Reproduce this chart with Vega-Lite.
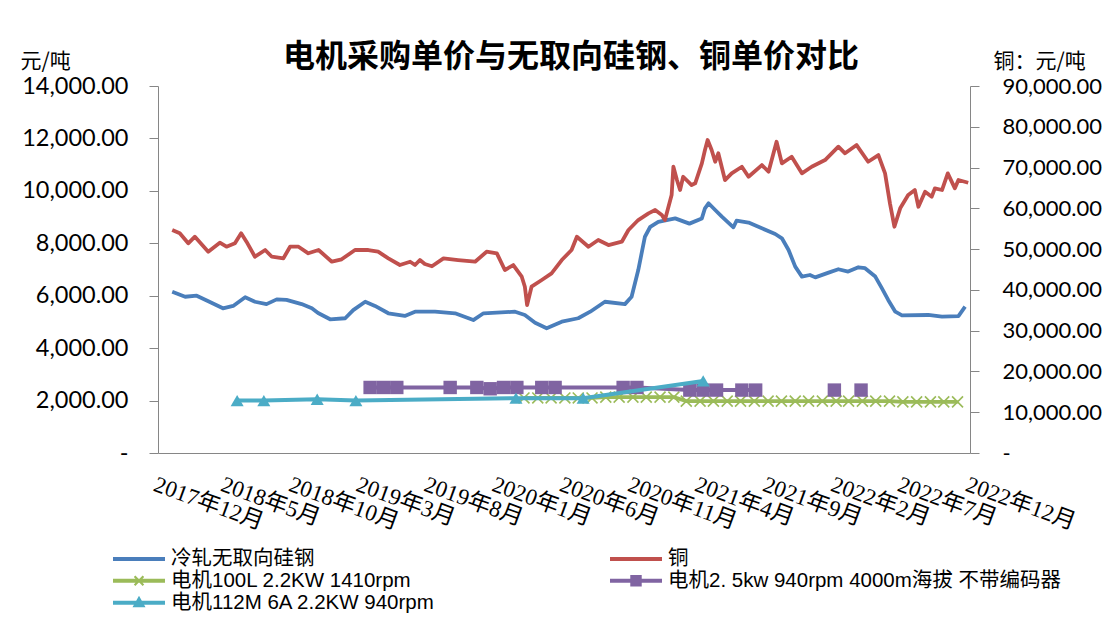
{
  "$schema": "https://vega.github.io/schema/vega-lite/v6.json",
  "width": 812,
  "height": 367,
  "autosize": {"type": "none"},
  "padding": {"left": 158, "top": 86, "right": 136, "bottom": 175},
  "background": "white",
  "config": {
    "view": {"stroke": null},
    "axis": {"labelColor": "#000000", "domainColor": "#868686", "tickColor": "#868686", "grid": false}
  },
  "title": {
    "text": "电机采购单价与无取向硅钢、铜单价对比",
    "font": "Noto Sans CJK SC",
    "fontSize": 32,
    "fontWeight": "bold",
    "color": "#000000",
    "anchor": "middle",
    "baseline": "alphabetic",
    "offset": 0,
    "dx": 7,
    "dy": 49
  },
  "datasets": {
    "steel": [
      {"date": "2018-01-02", "v": 6150}, {"date": "2018-01-31", "v": 5960}, {"date": "2018-02-26", "v": 6000},
      {"date": "2018-03-23", "v": 5800}, {"date": "2018-04-26", "v": 5520}, {"date": "2018-05-19", "v": 5610},
      {"date": "2018-06-15", "v": 5940}, {"date": "2018-07-07", "v": 5770}, {"date": "2018-08-02", "v": 5680},
      {"date": "2018-08-25", "v": 5860}, {"date": "2018-09-16", "v": 5840}, {"date": "2018-10-20", "v": 5680},
      {"date": "2018-11-12", "v": 5520}, {"date": "2018-11-26", "v": 5340}, {"date": "2018-12-23", "v": 5100},
      {"date": "2019-01-26", "v": 5140}, {"date": "2019-02-13", "v": 5450}, {"date": "2019-03-12", "v": 5770},
      {"date": "2019-04-03", "v": 5610}, {"date": "2019-05-03", "v": 5330}, {"date": "2019-06-09", "v": 5230},
      {"date": "2019-07-02", "v": 5390}, {"date": "2019-08-16", "v": 5390}, {"date": "2019-09-30", "v": 5330},
      {"date": "2019-11-10", "v": 5070}, {"date": "2019-12-03", "v": 5330}, {"date": "2020-02-12", "v": 5390},
      {"date": "2020-03-05", "v": 5265}, {"date": "2020-03-28", "v": 4970}, {"date": "2020-04-23", "v": 4760},
      {"date": "2020-05-27", "v": 5010}, {"date": "2020-07-03", "v": 5140}, {"date": "2020-07-30", "v": 5390},
      {"date": "2020-09-01", "v": 5770}, {"date": "2020-10-16", "v": 5680}, {"date": "2020-10-31", "v": 5960},
      {"date": "2020-11-15", "v": 6980}, {"date": "2020-11-30", "v": 8250}, {"date": "2020-12-12", "v": 8630},
      {"date": "2020-12-30", "v": 8820}, {"date": "2021-02-06", "v": 8950}, {"date": "2021-03-10", "v": 8750},
      {"date": "2021-04-07", "v": 8950}, {"date": "2021-04-14", "v": 9335}, {"date": "2021-04-22", "v": 9526},
      {"date": "2021-05-07", "v": 9270}, {"date": "2021-05-22", "v": 9015}, {"date": "2021-06-17", "v": 8610},
      {"date": "2021-06-24", "v": 8860}, {"date": "2021-07-21", "v": 8790}, {"date": "2021-08-20", "v": 8570},
      {"date": "2021-09-19", "v": 8355}, {"date": "2021-10-04", "v": 8190}, {"date": "2021-10-19", "v": 7745},
      {"date": "2021-11-03", "v": 7110}, {"date": "2021-11-18", "v": 6730}, {"date": "2021-12-06", "v": 6790},
      {"date": "2021-12-18", "v": 6700}, {"date": "2022-01-17", "v": 6880}, {"date": "2022-02-08", "v": 7010},
      {"date": "2022-03-02", "v": 6920}, {"date": "2022-03-25", "v": 7085}, {"date": "2022-04-09", "v": 7050},
      {"date": "2022-05-02", "v": 6730}, {"date": "2022-05-17", "v": 6280}, {"date": "2022-05-31", "v": 5840},
      {"date": "2022-06-16", "v": 5390}, {"date": "2022-07-01", "v": 5250}, {"date": "2022-08-29", "v": 5265},
      {"date": "2022-09-29", "v": 5200}, {"date": "2022-11-05", "v": 5225}, {"date": "2022-11-20", "v": 5580}
    ],
    "copper": [
      {"date": "2018-01-02", "v": 54680}, {"date": "2018-01-19", "v": 53870}, {"date": "2018-02-07", "v": 51420},
      {"date": "2018-02-22", "v": 53040}, {"date": "2018-03-24", "v": 49360}, {"date": "2018-04-19", "v": 51570},
      {"date": "2018-05-04", "v": 50590}, {"date": "2018-05-23", "v": 51420}, {"date": "2018-06-06", "v": 53870},
      {"date": "2018-06-18", "v": 51820}, {"date": "2018-07-07", "v": 48130}, {"date": "2018-07-30", "v": 49780},
      {"date": "2018-08-14", "v": 48130}, {"date": "2018-09-09", "v": 47740}, {"date": "2018-09-24", "v": 50590},
      {"date": "2018-10-13", "v": 50590}, {"date": "2018-11-04", "v": 48970}, {"date": "2018-11-27", "v": 49780},
      {"date": "2018-12-27", "v": 46910}, {"date": "2019-01-18", "v": 47500}, {"date": "2019-02-17", "v": 49780},
      {"date": "2019-03-19", "v": 49780}, {"date": "2019-04-10", "v": 49360}, {"date": "2019-05-03", "v": 47740},
      {"date": "2019-05-29", "v": 46100}, {"date": "2019-06-21", "v": 46910}, {"date": "2019-07-02", "v": 46100},
      {"date": "2019-07-13", "v": 47320}, {"date": "2019-07-24", "v": 46340}, {"date": "2019-08-09", "v": 45800},
      {"date": "2019-09-04", "v": 47740}, {"date": "2019-10-07", "v": 47320}, {"date": "2019-11-14", "v": 46910},
      {"date": "2019-12-10", "v": 49360}, {"date": "2020-01-02", "v": 48970}, {"date": "2020-01-20", "v": 44870},
      {"date": "2020-02-08", "v": 46100}, {"date": "2020-02-27", "v": 43230}, {"date": "2020-03-05", "v": 40780},
      {"date": "2020-03-10", "v": 36290}, {"date": "2020-03-20", "v": 40780}, {"date": "2020-04-12", "v": 42420},
      {"date": "2020-05-04", "v": 44060}, {"date": "2020-05-27", "v": 47320}, {"date": "2020-06-18", "v": 49780},
      {"date": "2020-06-30", "v": 53040}, {"date": "2020-07-26", "v": 50590}, {"date": "2020-08-17", "v": 52230},
      {"date": "2020-09-09", "v": 51000}, {"date": "2020-10-09", "v": 51820}, {"date": "2020-10-24", "v": 54680},
      {"date": "2020-11-15", "v": 57130}, {"date": "2020-12-08", "v": 58770}, {"date": "2020-12-23", "v": 59580},
      {"date": "2021-01-07", "v": 58360}, {"date": "2021-01-14", "v": 57130}, {"date": "2021-01-29", "v": 63260},
      {"date": "2021-02-02", "v": 70200}, {"date": "2021-02-10", "v": 66940}, {"date": "2021-02-17", "v": 64490},
      {"date": "2021-02-24", "v": 67750}, {"date": "2021-03-15", "v": 65710}, {"date": "2021-03-23", "v": 66130},
      {"date": "2021-04-07", "v": 71030}, {"date": "2021-04-14", "v": 74300}, {"date": "2021-04-20", "v": 76750},
      {"date": "2021-04-29", "v": 74300}, {"date": "2021-05-07", "v": 71430}, {"date": "2021-05-14", "v": 73490},
      {"date": "2021-05-29", "v": 66940}, {"date": "2021-06-13", "v": 68580}, {"date": "2021-07-06", "v": 70200},
      {"date": "2021-07-21", "v": 67750}, {"date": "2021-08-20", "v": 70610}, {"date": "2021-09-04", "v": 68970},
      {"date": "2021-09-22", "v": 76330}, {"date": "2021-10-04", "v": 71030}, {"date": "2021-10-26", "v": 72650},
      {"date": "2021-11-18", "v": 68580}, {"date": "2021-12-10", "v": 70200}, {"date": "2022-01-09", "v": 71840},
      {"date": "2022-02-08", "v": 75110}, {"date": "2022-02-23", "v": 73490}, {"date": "2022-03-21", "v": 75520},
      {"date": "2022-04-16", "v": 71430}, {"date": "2022-05-09", "v": 73070}, {"date": "2022-05-24", "v": 68580},
      {"date": "2022-06-04", "v": 61220}, {"date": "2022-06-14", "v": 55490}, {"date": "2022-06-27", "v": 60000},
      {"date": "2022-07-15", "v": 63260}, {"date": "2022-07-30", "v": 64490}, {"date": "2022-08-07", "v": 60390},
      {"date": "2022-08-22", "v": 64070}, {"date": "2022-09-06", "v": 62850}, {"date": "2022-09-13", "v": 64910},
      {"date": "2022-09-29", "v": 64490}, {"date": "2022-10-12", "v": 68580}, {"date": "2022-10-28", "v": 64910},
      {"date": "2022-11-05", "v": 66940}, {"date": "2022-11-27", "v": 66280}
    ],
    "m100": [
      {"date": "2020-03-03", "v": 2100}, {"date": "2020-04-03", "v": 2100}, {"date": "2020-05-03", "v": 2100},
      {"date": "2020-06-03", "v": 2100}, {"date": "2020-07-03", "v": 2100}, {"date": "2020-08-03", "v": 2100},
      {"date": "2020-09-03", "v": 2130}, {"date": "2020-10-03", "v": 2130}, {"date": "2020-11-03", "v": 2130},
      {"date": "2020-12-03", "v": 2130}, {"date": "2021-01-03", "v": 2130}, {"date": "2021-02-03", "v": 2130},
      {"date": "2021-03-03", "v": 1980}, {"date": "2021-04-03", "v": 1980}, {"date": "2021-05-03", "v": 1980},
      {"date": "2021-06-03", "v": 1980}, {"date": "2021-07-03", "v": 1980}, {"date": "2021-08-03", "v": 1980},
      {"date": "2021-09-03", "v": 1980}, {"date": "2021-10-03", "v": 1980}, {"date": "2021-11-03", "v": 1980},
      {"date": "2021-12-03", "v": 1980}, {"date": "2022-01-03", "v": 1980}, {"date": "2022-02-03", "v": 1980},
      {"date": "2022-03-03", "v": 1980}, {"date": "2022-04-03", "v": 1980}, {"date": "2022-05-03", "v": 1980},
      {"date": "2022-06-03", "v": 1980}, {"date": "2022-07-03", "v": 1950}, {"date": "2022-08-03", "v": 1950},
      {"date": "2022-09-03", "v": 1950}, {"date": "2022-10-03", "v": 1950}, {"date": "2022-11-03", "v": 1950}
    ],
    "m25": [
      {"date": "2019-03-23", "v": 2500, "grp": "a"}, {"date": "2019-04-22", "v": 2500, "grp": "a"},
      {"date": "2019-05-22", "v": 2500, "grp": "a"}, {"date": "2019-09-19", "v": 2500, "grp": "a"},
      {"date": "2019-11-18", "v": 2500, "grp": "a"}, {"date": "2019-12-18", "v": 2450, "grp": "a"},
      {"date": "2020-01-17", "v": 2500, "grp": "a"}, {"date": "2020-02-16", "v": 2500, "grp": "a"},
      {"date": "2020-04-12", "v": 2500, "grp": "a"}, {"date": "2020-05-12", "v": 2500, "grp": "a"},
      {"date": "2020-10-12", "v": 2500, "grp": "a"}, {"date": "2020-11-12", "v": 2500, "grp": "a"},
      {"date": "2021-03-11", "v": 2400, "grp": "a"}, {"date": "2021-04-10", "v": 2400, "grp": "a"},
      {"date": "2021-05-10", "v": 2400, "grp": "a"}, {"date": "2021-07-06", "v": 2400, "grp": "a"},
      {"date": "2021-08-06", "v": 2400, "grp": "a"}, {"date": "2022-01-30", "v": 2400, "grp": "b"},
      {"date": "2022-03-31", "v": 2400, "grp": "c"}
    ],
    "m112": [
      {"date": "2018-05-28", "v": 2000}, {"date": "2018-07-27", "v": 2000}, {"date": "2018-11-24", "v": 2050},
      {"date": "2019-02-19", "v": 2000}, {"date": "2020-02-14", "v": 2090}, {"date": "2020-07-14", "v": 2090},
      {"date": "2021-04-10", "v": 2750}
    ]
  },
  "layer": [
    {
      "layer": [
        {
          "data": {"name": "steel"},
          "mark": {"type": "line", "strokeWidth": 3.8, "strokeJoin": "round"},
          "encoding": {
            "x": {
              "field": "date", "type": "temporal",
              "scale": {"domain": [{"year": 2017, "month": 12, "date": 1}, {"year": 2022, "month": 12, "date": 1}]},
              "axis": {
                "title": null,
                "values": [
                  {"year": 2017, "month": 12, "date": 1}, {"year": 2018, "month": 5, "date": 1},
                  {"year": 2018, "month": 10, "date": 1}, {"year": 2019, "month": 3, "date": 1},
                  {"year": 2019, "month": 8, "date": 1}, {"year": 2020, "month": 1, "date": 1},
                  {"year": 2020, "month": 6, "date": 1}, {"year": 2020, "month": 11, "date": 1},
                  {"year": 2021, "month": 4, "date": 1}, {"year": 2021, "month": 9, "date": 1},
                  {"year": 2022, "month": 2, "date": 1}, {"year": 2022, "month": 7, "date": 1},
                  {"year": 2022, "month": 12, "date": 1}
                ],
                "format": "%Y年%-m月",
                "ticks": false,
                "tickSize": 0,
                "labelAngle": 20,
                "labelAlign": "left",
                "labelBaseline": "top",
                "labelPadding": 20,
                "labelFont": "Liberation Serif, Noto Sans CJK SC",
                "labelFontSize": 23,
                "labelOverlap": false,
                "labelFlush": false,
                "labelBound": false
              }
            },
            "y": {
              "field": "v", "type": "quantitative",
              "scale": {"domain": [0, 14000], "nice": false, "zero": true},
              "axis": {
                "title": "元/吨",
                "titleAngle": 0,
                "titleAlign": "left",
                "titleBaseline": "middle",
                "titleX": -138,
                "titleY": -25,
                "titleFont": "Noto Sans CJK SC",
                "titleFontSize": 21,
                "titleFontWeight": "normal",
                "titleColor": "#000000",
                "values": [0, 2000, 4000, 6000, 8000, 10000, 12000, 14000],
                "labelExpr": "datum.value === 0 ? '-\u00a0\u00a0\u00a0\u00a0\u00a0' : format(datum.value, ',.2f')",
                "labelFont": "Lato",
                "labelFontSize": 23.5,
                "tickSize": 9,
                "labelPadding": 21
              }
            },
            "color": {
              "datum": "冷轧无取向硅钢",
              "type": "nominal",
              "scale": {
                "domain": ["冷轧无取向硅钢", "电机100L 2.2KW 1410rpm", "电机112M 6A 2.2KW 940rpm", "铜", "电机2. 5kw  940rpm 4000m海拔  不带编码器"],
                "range": ["#4A7EBB", "#9BBB59", "#4BACC6", "#C0504D", "#8064A2"]
              },
              "legend": {
                "title": null,
                "orient": "none",
                "legendX": -45,
                "legendY": 462,
                "columns": 2,
                "columnPadding": 175,
                "rowPadding": 0,
                "padding": 0,
                "clipHeight": 21.5,
                "symbolSize": 2704,
                "labelOffset": 6,
                "labelFont": "Liberation Sans, Noto Sans CJK SC",
                "labelFontSize": 20.5,
                "labelColor": "#000000",
                "labelLimit": 600,
                "encode": {
                  "symbols": {
                    "update": {
                      "shape": {"signal": "indexof(datum.value,'100L') >= 0 ? 'M-1,-0.08H1V0.08H-1Z M-0.2,-0.14L-0.14,-0.2L0,-0.06L0.14,-0.2L0.2,-0.14L0.06,0L0.2,0.14L0.14,0.2L0,0.06L-0.14,0.2L-0.2,0.14L-0.06,0Z' : indexof(datum.value,'5kw') >= 0 ? 'M-1,-0.08H1V0.08H-1Z M-0.22,-0.22H0.22V0.22H-0.22Z' : indexof(datum.value,'112M') >= 0 ? 'M-1,-0.08H1V0.08H-1Z M0,-0.27L0.25,0.17H-0.25Z' : 'M-1,-0.08H1V0.08H-1Z'"},
                      "fill": {"scale": "color", "field": "value"},
                      "stroke": {"value": "transparent"},
                      "strokeWidth": {"value": 0},
                      "opacity": {"value": 1}
                    }
                  }
                }
              }
            }
          }
        },
        {
          "data": {"name": "m100"},
          "mark": {"type": "line", "strokeWidth": 3.8, "color": "#9BBB59"},
          "encoding": {
            "x": {"field": "date", "type": "temporal"},
            "y": {"field": "v", "type": "quantitative"}
          }
        },
        {
          "data": {"name": "m100"},
          "mark": {"type": "point", "shape": "M-1,-1L1,1M-1,1L1,-1", "filled": false, "strokeWidth": 1.6, "size": 120, "color": "#9BBB59", "opacity": 1},
          "encoding": {
            "x": {"field": "date", "type": "temporal"},
            "y": {"field": "v", "type": "quantitative"}
          }
        },
        {
          "data": {"name": "m25"},
          "mark": {"type": "line", "strokeWidth": 4, "color": "#8064A2"},
          "encoding": {
            "x": {"field": "date", "type": "temporal"},
            "y": {"field": "v", "type": "quantitative"},
            "detail": {"field": "grp", "type": "nominal"}
          }
        },
        {
          "data": {"name": "m25"},
          "mark": {"type": "point", "shape": "square", "filled": true, "size": 180, "color": "#8064A2", "opacity": 1},
          "encoding": {
            "x": {"field": "date", "type": "temporal"},
            "y": {"field": "v", "type": "quantitative"}
          }
        },
        {
          "data": {"name": "m112"},
          "mark": {"type": "line", "strokeWidth": 4, "color": "#4BACC6"},
          "encoding": {
            "x": {"field": "date", "type": "temporal"},
            "y": {"field": "v", "type": "quantitative"}
          }
        },
        {
          "data": {"name": "m112"},
          "mark": {"type": "point", "shape": "triangle-up", "filled": true, "size": 170, "color": "#4BACC6", "opacity": 1},
          "encoding": {
            "x": {"field": "date", "type": "temporal"},
            "y": {"field": "v", "type": "quantitative"}
          }
        }
      ]
    },
    {
      "data": {"name": "copper"},
      "mark": {"type": "line", "strokeWidth": 3.8, "color": "#C0504D", "strokeJoin": "round"},
      "encoding": {
        "x": {"field": "date", "type": "temporal"},
        "y": {
          "field": "v", "type": "quantitative",
          "scale": {"domain": [0, 90000], "nice": false, "zero": true},
          "axis": {
            "orient": "right",
            "title": "铜：元/吨",
            "titleAngle": 0,
            "titleAlign": "left",
            "titleBaseline": "middle",
            "titleX": 23,
            "titleY": -25,
            "titleFont": "Noto Sans CJK SC",
            "titleFontSize": 21,
            "titleFontWeight": "normal",
            "titleColor": "#000000",
            "values": [0, 10000, 20000, 30000, 40000, 50000, 60000, 70000, 80000, 90000],
            "labelExpr": "datum.value === 0 ? '-' : format(datum.value, ',.2f')",
            "labelFont": "Lato",
            "labelFontSize": 22,
            "tickSize": 9,
            "labelPadding": 23
          }
        }
      }
    }
  ],
  "resolve": {"scale": {"y": "independent"}}
}
